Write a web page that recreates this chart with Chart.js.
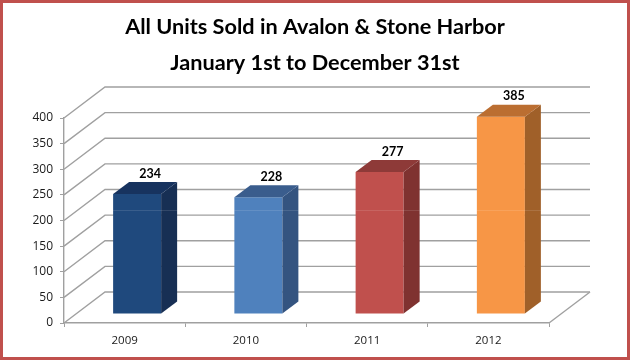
<!DOCTYPE html>
<html><head><meta charset="utf-8">
<style>
html,body{margin:0;padding:0;background:#fff}
#wrap{position:relative;width:630px;height:361px;overflow:hidden}
#wrap canvas{position:absolute;left:0;top:0}
#frame{position:absolute;left:0;top:0;width:624px;height:354px;border:3px solid #c0504d;pointer-events:none}
</style>
<script src="https://cdn.jsdelivr.net/npm/chart.js@4"></script>
</head><body>
<div id="wrap"><canvas id="c" width="630" height="361"></canvas><div id="frame"></div></div>
<script>
const titleLines = ["All Units Sold in Avalon & Stone Harbor", "January 1st to December 31st"];
const categories = ["2009", "2010", "2011", "2012"];
const unitsSold = [234, 228, 277, 385];
const frontColors = ["#1f497d", "#4f81bd", "#c0504d", "#f79646"];
const sideColors = ["#172f54", "#345480", "#7f3230", "#a06029"];
const topColors = ["#17335f", "#3a5d8d", "#8e3a38", "#bb6e31"];
const gridColor = "#a0a0a0";

const depth = {dx: 41, dy: 31};
const barPos = {dx: 12.5, dy: 9};
const barDepth = {dx: 16, dy: 12};
const sheenValue = 203;

const depth3d = {
  id: "depth3d",
  beforeDatasetsDraw(chart) {
    const {ctx, scales: {x, y}} = chart;
    ctx.save();
    ctx.strokeStyle = gridColor;
    ctx.lineWidth = 1.4;
    y.ticks.forEach(t => {
      const py = y.getPixelForValue(t.value);
      ctx.beginPath();
      ctx.moveTo(x.left, py);
      ctx.lineTo(x.left + depth.dx, py - depth.dy);
      ctx.lineTo(x.right + depth.dx, py - depth.dy);
      ctx.stroke();
    });
    const y0 = y.getPixelForValue(0);
    ctx.beginPath();
    ctx.moveTo(x.right, y0);
    ctx.lineTo(x.right + depth.dx, y0 - depth.dy);
    ctx.stroke();
    ctx.restore();
  },
  beforeDatasetDraw(chart) {
    chart.ctx.save();
    chart.ctx.translate(barPos.dx, -barPos.dy);
  },
  afterDatasetDraw(chart, args) {
    const {ctx, scales: {y}} = chart;
    const meta = args.meta;
    meta.data.forEach((bar, i) => {
      const l = bar.x - bar.width / 2, r = bar.x + bar.width / 2;
      const t = bar.y, b = bar.base;
      ctx.fillStyle = sideColors[i];
      ctx.beginPath();
      ctx.moveTo(r, t);
      ctx.lineTo(r + barDepth.dx, t - barDepth.dy);
      ctx.lineTo(r + barDepth.dx, b - barDepth.dy);
      ctx.lineTo(r, b);
      ctx.closePath();
      ctx.fill();
      ctx.fillStyle = topColors[i];
      ctx.beginPath();
      ctx.moveTo(l, t);
      ctx.lineTo(l + barDepth.dx, t - barDepth.dy);
      ctx.lineTo(r + barDepth.dx, t - barDepth.dy);
      ctx.lineTo(r, t);
      ctx.closePath();
      ctx.fill();
      ctx.fillStyle = "rgba(255,255,255,0.12)";
      ctx.fillRect(l, y.getPixelForValue(sheenValue), bar.width + barDepth.dx, 1);
    });
    ctx.font = "bold 12.5px Lato, sans-serif";
    ctx.fillStyle = "#000";
    ctx.textAlign = "center";
    ctx.textBaseline = "middle";
    meta.data.forEach((bar, i) => {
      ctx.fillText(String(unitsSold[i]), bar.x + 13, bar.y - 20.5);
    });
    ctx.restore();
  }
};

new Chart(document.getElementById("c"), {
  type: "bar",
  data: {
    labels: categories,
    datasets: [{
      data: unitsSold,
      backgroundColor: frontColors,
      borderWidth: 0,
      barPercentage: 0.396,
      categoryPercentage: 1,
      yAxisID: "y"
    }]
  },
  options: {
    responsive: false,
    animation: false,
    layout: {padding: 0},
    plugins: {
      legend: {display: false},
      tooltip: {enabled: false},
      title: {
        display: true,
        text: titleLines,
        color: "#000",
        font: {family: "Lato, sans-serif", size: 21.7, weight: "bold", lineHeight: 1.66},
        padding: {top: 9, bottom: 37}
      }
    },
    scales: {
      x: {
        grid: {drawOnChartArea: false, drawTicks: true, tickLength: 4, color: gridColor},
        border: {color: gridColor, width: 1.4},
        ticks: {color: "#1a1a1a", font: {family: "'Open Sans', sans-serif", size: 11.5}, padding: 7, maxRotation: 0},
        afterFit(s) { s.height = 38; }
      },
      y: {
        min: 0, max: 400,
        grid: {drawOnChartArea: false, drawTicks: true, tickLength: 4, color: gridColor},
        border: {color: gridColor, width: 1.4},
        ticks: {stepSize: 50, color: "#1a1a1a", font: {family: "'Open Sans', sans-serif", size: 12}, padding: 7},
        afterFit(s) { s.width = 64; }
      },
      rightGutter: {
        axis: "y", position: "right", min: 0, max: 1,
        grid: {display: false}, border: {display: false}, ticks: {display: false},
        afterFit(s) { s.width = 81; }
      }
    }
  },
  plugins: [depth3d]
});
</script>
</body></html>
